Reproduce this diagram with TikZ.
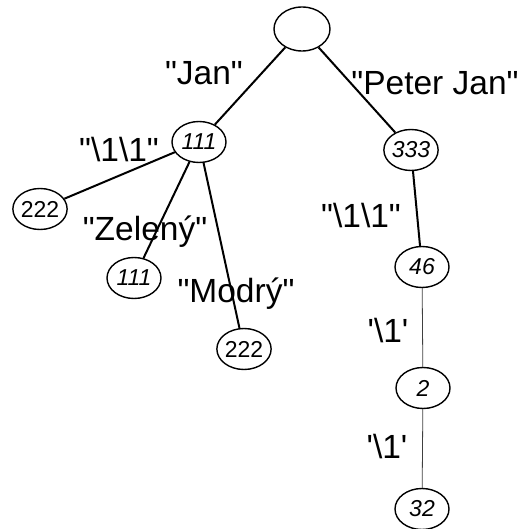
\documentclass[tikz,border=0pt]{standalone}
\usepackage{fontspec}
\newfontfamily\arial{Liberation Sans}
\usetikzlibrary{shapes.geometric}
\begin{document}
\begin{tikzpicture}[x=1pt,y=-1pt,
  nd/.style={ellipse,draw,line width=1.4pt,inner sep=0pt,minimum width=54pt,minimum height=41pt,font=\arial\fontsize{23}{27}\selectfont},
  itnd/.style={nd,font=\arial\itshape\fontsize{23}{27}\selectfont},
  lbl/.style={anchor=base,inner sep=0pt,font=\arial\fontsize{33.5}{40}\selectfont},
  edge/.style={line width=2pt},
  thinedge/.style={line width=0.8pt,black!75}]
\useasboundingbox (0,0) rectangle (526,529);
\node[nd,minimum width=56pt,minimum height=44pt] (root) at (302,29) {};
\node[itnd] (a111) at (199,142) {111};
\node[itnd] (a333) at (411,150) {333};
\node[nd] (b222) at (40,209) {222};
\node[itnd] (b111) at (134,278) {111};
\node[nd] (c222) at (244,349) {222};
\node[itnd] (n46) at (422,267) {46};
\node[itnd] (n2) at (423,388) {2};
\node[itnd] (n32) at (422,509) {32};
\draw[edge] (root) -- (a111);
\draw[edge] (root) -- (a333);
\draw[edge] (a111) -- (b222);
\draw[edge] (a111) -- (b111);
\draw[edge] (a111) -- (c222);
\draw[edge] (a333) -- (n46);
\draw[thinedge] (n46) -- (n2);
\draw[thinedge] (n2) -- (n32);
\node[lbl] (l1) at (204,85) {"Jan"};
\node[lbl] (l2) at (435,95) {"Peter Jan"};
\node[lbl] (l3) at (119,162) {"\textbackslash1\textbackslash1"};
\node[lbl] (l4) at (145,240) {"Zelený"};
\node[lbl] (l5) at (236,302) {"Modrý"};
\node[lbl] (l6) at (361,227) {"\textbackslash1\textbackslash1"};
\node[lbl] (l7) at (388,342) {'\textbackslash1'};
\node[lbl] (l8) at (387,458) {'\textbackslash1'};
\end{tikzpicture}
\end{document}
